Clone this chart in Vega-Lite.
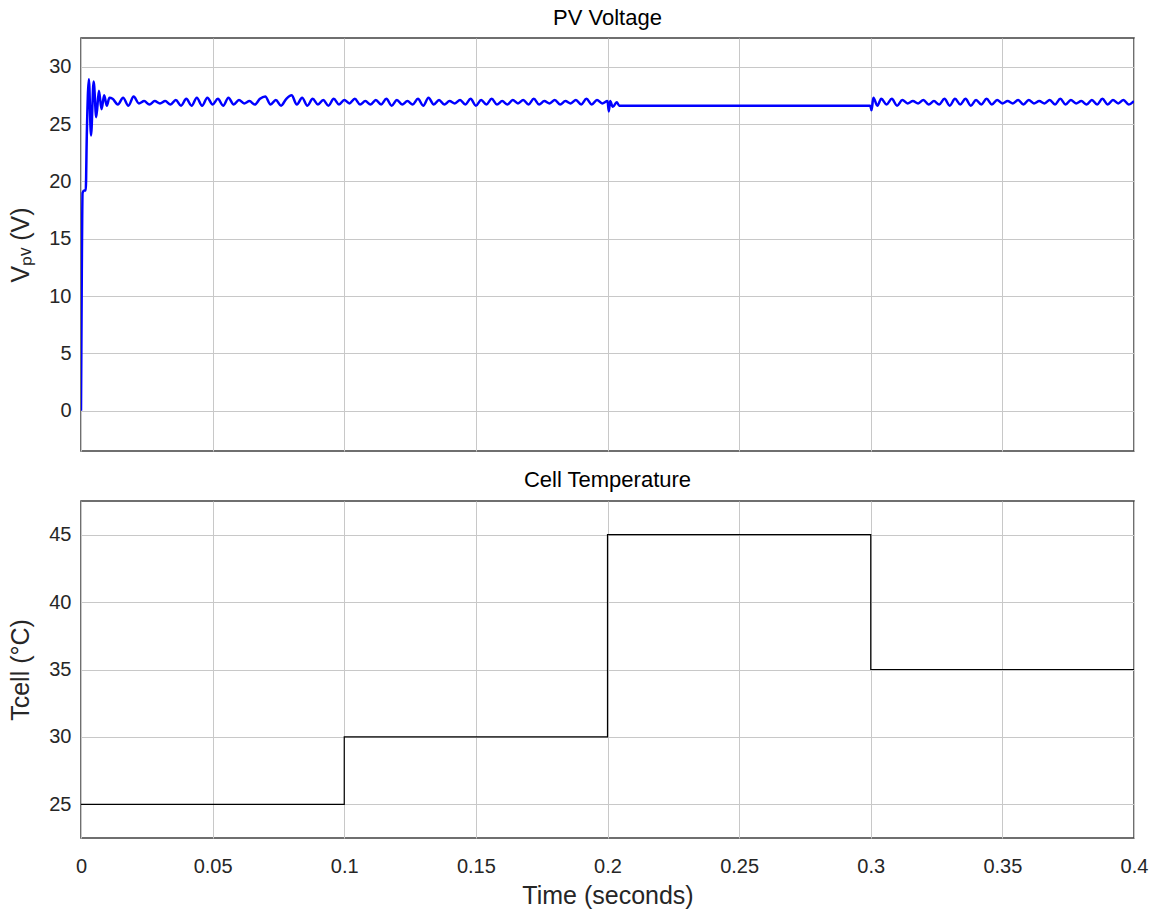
{
  "$schema": "https://vega.github.io/schema/vega-lite/v6.json",
  "background": "white",
  "padding": {"left": 8, "top": 6, "right": 25, "bottom": 5},
  "spacing": 16,
  "config": {
    "font": "Liberation Sans",
    "view": {"stroke": "#404040", "strokeWidth": 1.5},
    "axis": {
      "gridColor": "#c8c8c8",
      "gridWidth": 1,
      "domain": false,
      "ticks": false,
      "labelFontSize": 20,
      "labelColor": "#262626",
      "titleFontSize": 25,
      "titleFontWeight": "normal",
      "titleColor": "#262626"
    },
    "title": {"fontSize": 22, "fontWeight": "normal", "color": "#000000", "offset": 8}
  },
  "datasets": {
    "pv": [
      {"t": 0, "v": 0}, {"t": 0.0003, "v": 12}, {"t": 0.0006, "v": 19}, {"t": 0.0012, "v": 19.2}, {"t": 0.0018, "v": 19.2},
      {"t": 0.0022, "v": 24}, {"t": 0.003, "v": 28.9}, {"t": 0.0038, "v": 24.0}, {"t": 0.0048, "v": 28.7}, {"t": 0.0058, "v": 25.6},
      {"t": 0.0068, "v": 27.9}, {"t": 0.0078, "v": 26.3}, {"t": 0.0088, "v": 27.5}, {"t": 0.0098, "v": 26.6}, {"t": 0.0108, "v": 27.3},
      {"t": 0.012, "v": 27.2}, {"t": 0.014, "v": 26.7}, {"t": 0.016, "v": 27.3}, {"t": 0.018, "v": 26.6}, {"t": 0.020, "v": 27.4},
      {"t": 0.022, "v": 26.8}, {"t": 0.024, "v": 27.0}, {"t": 0.026, "v": 26.7}, {"t": 0.028, "v": 27.0}, {"t": 0.030, "v": 26.8},
      {"t": 0.032, "v": 27.0}, {"t": 0.034, "v": 26.7}, {"t": 0.036, "v": 27.1}, {"t": 0.038, "v": 26.6}, {"t": 0.040, "v": 27.2},
      {"t": 0.042, "v": 26.6}, {"t": 0.044, "v": 27.3}, {"t": 0.046, "v": 26.6}, {"t": 0.048, "v": 27.3}, {"t": 0.050, "v": 26.7},
      {"t": 0.052, "v": 27.2}, {"t": 0.054, "v": 26.6}, {"t": 0.056, "v": 27.3}, {"t": 0.058, "v": 26.7}, {"t": 0.060, "v": 27.1},
      {"t": 0.062, "v": 26.8}, {"t": 0.064, "v": 27.0}, {"t": 0.066, "v": 26.7}, {"t": 0.068, "v": 27.2}, {"t": 0.070, "v": 27.4},
      {"t": 0.072, "v": 26.7}, {"t": 0.074, "v": 27.1}, {"t": 0.076, "v": 26.6}, {"t": 0.078, "v": 27.2}, {"t": 0.080, "v": 27.5},
      {"t": 0.082, "v": 26.7}, {"t": 0.084, "v": 27.3}, {"t": 0.086, "v": 26.6}, {"t": 0.088, "v": 27.2}, {"t": 0.090, "v": 26.7},
      {"t": 0.092, "v": 27.1}, {"t": 0.094, "v": 26.6}, {"t": 0.096, "v": 27.2}, {"t": 0.098, "v": 26.7}, {"t": 0.100, "v": 27.1},
      {"t": 0.102, "v": 26.8}, {"t": 0.104, "v": 27.2}, {"t": 0.106, "v": 26.7}, {"t": 0.108, "v": 27.0}, {"t": 0.110, "v": 26.7},
      {"t": 0.112, "v": 27.1}, {"t": 0.114, "v": 26.7}, {"t": 0.116, "v": 27.2}, {"t": 0.118, "v": 26.6}, {"t": 0.120, "v": 27.1},
      {"t": 0.122, "v": 26.7}, {"t": 0.124, "v": 27.0}, {"t": 0.126, "v": 26.7}, {"t": 0.128, "v": 27.2}, {"t": 0.130, "v": 26.6},
      {"t": 0.132, "v": 27.3}, {"t": 0.134, "v": 26.7}, {"t": 0.136, "v": 27.1}, {"t": 0.138, "v": 26.7}, {"t": 0.140, "v": 27.0},
      {"t": 0.142, "v": 26.8}, {"t": 0.144, "v": 27.1}, {"t": 0.146, "v": 26.7}, {"t": 0.148, "v": 27.2}, {"t": 0.150, "v": 26.6},
      {"t": 0.152, "v": 27.1}, {"t": 0.154, "v": 26.7}, {"t": 0.156, "v": 27.2}, {"t": 0.158, "v": 26.7}, {"t": 0.160, "v": 27.0},
      {"t": 0.162, "v": 26.7}, {"t": 0.164, "v": 27.1}, {"t": 0.166, "v": 26.8}, {"t": 0.168, "v": 27.1}, {"t": 0.170, "v": 26.7},
      {"t": 0.172, "v": 27.2}, {"t": 0.174, "v": 26.7}, {"t": 0.176, "v": 27.0}, {"t": 0.178, "v": 26.8}, {"t": 0.180, "v": 27.1},
      {"t": 0.182, "v": 26.7}, {"t": 0.184, "v": 27.0}, {"t": 0.186, "v": 26.8}, {"t": 0.188, "v": 27.1}, {"t": 0.190, "v": 26.7},
      {"t": 0.192, "v": 27.2}, {"t": 0.194, "v": 26.7}, {"t": 0.196, "v": 27.1}, {"t": 0.198, "v": 26.8}, {"t": 0.200, "v": 27.0},
      {"t": 0.2005, "v": 26.1}, {"t": 0.201, "v": 27.0}, {"t": 0.202, "v": 26.5}, {"t": 0.2035, "v": 26.9}, {"t": 0.2045, "v": 26.6},
      {"t": 0.206, "v": 26.6}, {"t": 0.25, "v": 26.6}, {"t": 0.2998, "v": 26.6}, {"t": 0.3003, "v": 26.2}, {"t": 0.301, "v": 27.3},
      {"t": 0.3025, "v": 26.6}, {"t": 0.304, "v": 27.2}, {"t": 0.306, "v": 26.7}, {"t": 0.308, "v": 27.2}, {"t": 0.310, "v": 26.6},
      {"t": 0.312, "v": 27.1}, {"t": 0.314, "v": 26.8}, {"t": 0.316, "v": 27.0}, {"t": 0.318, "v": 26.8}, {"t": 0.320, "v": 27.1},
      {"t": 0.322, "v": 26.7}, {"t": 0.324, "v": 27.0}, {"t": 0.326, "v": 26.7}, {"t": 0.328, "v": 27.2}, {"t": 0.330, "v": 26.6},
      {"t": 0.332, "v": 27.2}, {"t": 0.334, "v": 26.7}, {"t": 0.336, "v": 27.2}, {"t": 0.338, "v": 26.6}, {"t": 0.340, "v": 27.1},
      {"t": 0.342, "v": 26.7}, {"t": 0.344, "v": 27.2}, {"t": 0.346, "v": 26.7}, {"t": 0.348, "v": 27.1}, {"t": 0.350, "v": 26.8},
      {"t": 0.352, "v": 27.0}, {"t": 0.354, "v": 26.8}, {"t": 0.356, "v": 27.1}, {"t": 0.358, "v": 26.7}, {"t": 0.360, "v": 27.1},
      {"t": 0.362, "v": 26.8}, {"t": 0.364, "v": 27.0}, {"t": 0.366, "v": 26.8}, {"t": 0.368, "v": 27.1}, {"t": 0.370, "v": 26.7},
      {"t": 0.372, "v": 27.2}, {"t": 0.374, "v": 26.7}, {"t": 0.376, "v": 27.1}, {"t": 0.378, "v": 26.8}, {"t": 0.380, "v": 27.0},
      {"t": 0.382, "v": 26.7}, {"t": 0.384, "v": 27.1}, {"t": 0.386, "v": 26.7}, {"t": 0.388, "v": 27.2}, {"t": 0.390, "v": 26.7},
      {"t": 0.392, "v": 27.1}, {"t": 0.394, "v": 26.8}, {"t": 0.396, "v": 27.1}, {"t": 0.398, "v": 26.7}, {"t": 0.400, "v": 27.0}
    ],
    "temp": [
      {"t": 0, "T": 25}, {"t": 0.1, "T": 30}, {"t": 0.2, "T": 45}, {"t": 0.3, "T": 35}, {"t": 0.4, "T": 35}
    ]
  },
  "vconcat": [
    {
      "title": "PV Voltage",
      "width": 1053,
      "height": 413,
      "data": {"name": "pv"},
      "mark": {"type": "line", "color": "#0000ff", "strokeWidth": 2.5, "interpolate": "monotone", "clip": true},
      "encoding": {
        "x": {"field": "t", "type": "quantitative", "scale": {"domain": [0, 0.4], "nice": false, "zero": false},
              "axis": {"values": [0, 0.05, 0.1, 0.15, 0.2, 0.25, 0.3, 0.35, 0.4], "labels": false, "title": null}},
        "y": {"field": "v", "type": "quantitative", "scale": {"domain": [-3.5, 32.5], "nice": false, "zero": false},
              "axis": {"values": [0, 5, 10, 15, 20, 25, 30], "title": "Vₚᵥ (V)", "labelPadding": 10, "titlePadding": 15}}
      }
    },
    {
      "title": {"text": "Cell Temperature", "offset": 9},
      "width": 1053,
      "height": 337,
      "data": {"name": "temp"},
      "mark": {"type": "line", "color": "#000000", "strokeWidth": 1.2, "interpolate": "step-after", "clip": true},
      "encoding": {
        "x": {"field": "t", "type": "quantitative", "scale": {"domain": [0, 0.4], "nice": false, "zero": false},
              "axis": {"values": [0, 0.05, 0.1, 0.15, 0.2, 0.25, 0.3, 0.35, 0.4], "labelExpr": "datum.value + ''", "labelFlush": false, "labelPadding": 18, "title": "Time (seconds)", "titlePadding": 7}},
        "y": {"field": "T", "type": "quantitative", "scale": {"domain": [22.5, 47.5], "nice": false, "zero": false},
              "axis": {"values": [25, 30, 35, 40, 45], "title": "Tcell (°C)", "labelPadding": 10, "titlePadding": 15}}
      }
    }
  ]
}
